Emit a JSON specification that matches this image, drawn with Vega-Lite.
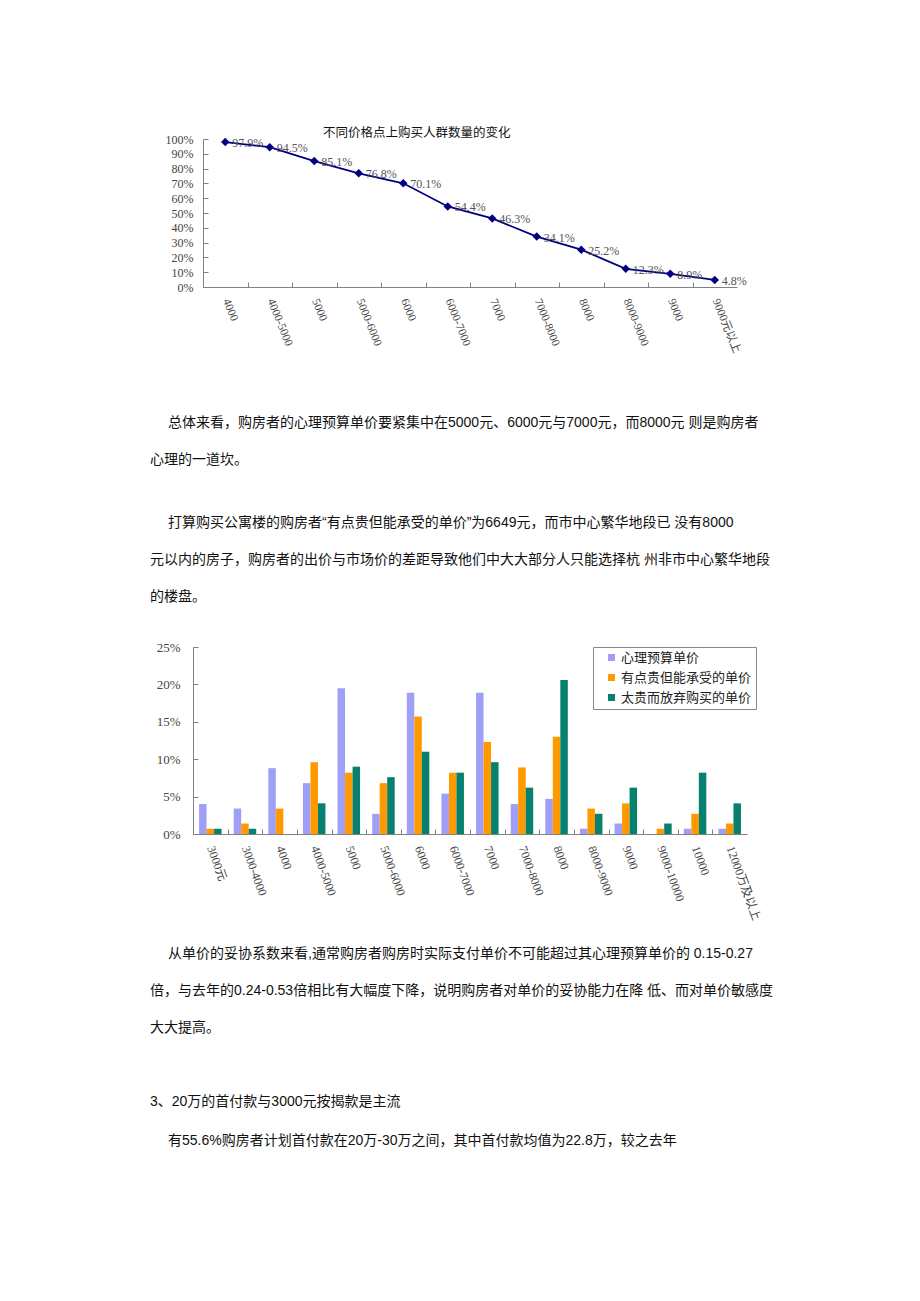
{
  "$schema": "https://vega.github.io/schema/vega-lite/v6.json",
  "background": "white",
  "padding": {"left": 150, "top": 126, "right": 0, "bottom": 0},
  "spacing": 0,
  "bounds": "flush",
  "resolve": {"scale": {"color": "independent"}, "legend": {"color": "independent"}},
  "config": {"view": {"stroke": null}, "font": "Liberation Serif"},
  "datasets": {
    "priceLine": [
      {"price": "4000", "share": 0.979},
      {"price": "4000-5000", "share": 0.945},
      {"price": "5000", "share": 0.851},
      {"price": "5000-6000", "share": 0.768},
      {"price": "6000", "share": 0.701},
      {"price": "6000-7000", "share": 0.544},
      {"price": "7000", "share": 0.463},
      {"price": "7000-8000", "share": 0.341},
      {"price": "8000", "share": 0.252},
      {"price": "8000-9000", "share": 0.123},
      {"price": "9000", "share": 0.089},
      {"price": "9000元以上", "share": 0.048}
    ],
    "bars": [
      {"price": "3000元", "series": "心理预算单价", "value": 0.040},
      {"price": "3000元", "series": "有点贵但能承受的单价", "value": 0.007},
      {"price": "3000元", "series": "太贵而放弃购买的单价", "value": 0.007},
      {"price": "3000-4000", "series": "心理预算单价", "value": 0.034},
      {"price": "3000-4000", "series": "有点贵但能承受的单价", "value": 0.014},
      {"price": "3000-4000", "series": "太贵而放弃购买的单价", "value": 0.007},
      {"price": "4000", "series": "心理预算单价", "value": 0.088},
      {"price": "4000", "series": "有点贵但能承受的单价", "value": 0.034},
      {"price": "4000", "series": "太贵而放弃购买的单价", "value": 0.0},
      {"price": "4000-5000", "series": "心理预算单价", "value": 0.068},
      {"price": "4000-5000", "series": "有点贵但能承受的单价", "value": 0.096},
      {"price": "4000-5000", "series": "太贵而放弃购买的单价", "value": 0.041},
      {"price": "5000", "series": "心理预算单价", "value": 0.195},
      {"price": "5000", "series": "有点贵但能承受的单价", "value": 0.082},
      {"price": "5000", "series": "太贵而放弃购买的单价", "value": 0.090},
      {"price": "5000-6000", "series": "心理预算单价", "value": 0.027},
      {"price": "5000-6000", "series": "有点贵但能承受的单价", "value": 0.068},
      {"price": "5000-6000", "series": "太贵而放弃购买的单价", "value": 0.076},
      {"price": "6000", "series": "心理预算单价", "value": 0.189},
      {"price": "6000", "series": "有点贵但能承受的单价", "value": 0.157},
      {"price": "6000", "series": "太贵而放弃购买的单价", "value": 0.110},
      {"price": "6000-7000", "series": "心理预算单价", "value": 0.054},
      {"price": "6000-7000", "series": "有点贵但能承受的单价", "value": 0.082},
      {"price": "6000-7000", "series": "太贵而放弃购买的单价", "value": 0.082},
      {"price": "7000", "series": "心理预算单价", "value": 0.189},
      {"price": "7000", "series": "有点贵但能承受的单价", "value": 0.123},
      {"price": "7000", "series": "太贵而放弃购买的单价", "value": 0.096},
      {"price": "7000-8000", "series": "心理预算单价", "value": 0.040},
      {"price": "7000-8000", "series": "有点贵但能承受的单价", "value": 0.089},
      {"price": "7000-8000", "series": "太贵而放弃购买的单价", "value": 0.062},
      {"price": "8000", "series": "心理预算单价", "value": 0.047},
      {"price": "8000", "series": "有点贵但能承受的单价", "value": 0.130},
      {"price": "8000", "series": "太贵而放弃购买的单价", "value": 0.206},
      {"price": "8000-9000", "series": "心理预算单价", "value": 0.007},
      {"price": "8000-9000", "series": "有点贵但能承受的单价", "value": 0.034},
      {"price": "8000-9000", "series": "太贵而放弃购买的单价", "value": 0.027},
      {"price": "9000", "series": "心理预算单价", "value": 0.014},
      {"price": "9000", "series": "有点贵但能承受的单价", "value": 0.041},
      {"price": "9000", "series": "太贵而放弃购买的单价", "value": 0.062},
      {"price": "9000-10000", "series": "心理预算单价", "value": 0.0},
      {"price": "9000-10000", "series": "有点贵但能承受的单价", "value": 0.007},
      {"price": "9000-10000", "series": "太贵而放弃购买的单价", "value": 0.014},
      {"price": "10000", "series": "心理预算单价", "value": 0.007},
      {"price": "10000", "series": "有点贵但能承受的单价", "value": 0.027},
      {"price": "10000", "series": "太贵而放弃购买的单价", "value": 0.082},
      {"price": "12000万及以上", "series": "心理预算单价", "value": 0.007},
      {"price": "12000万及以上", "series": "有点贵但能承受的单价", "value": 0.014},
      {"price": "12000万及以上", "series": "太贵而放弃购买的单价", "value": 0.041}
    ],
    "paragraphs": [
      {"block": "A", "line": 1, "indent": "yes", "text": "总体来看，购房者的心理预算单价要紧集中在5000元、6000元与7000元，而8000元 则是购房者"},
      {"block": "A", "line": 2, "indent": "no", "text": "心理的一道坎。"},
      {"block": "B", "line": 1, "indent": "yes", "text": "打算购买公寓楼的购房者“有点贵但能承受的单价”为6649元，而市中心繁华地段已 没有8000"},
      {"block": "B", "line": 2, "indent": "no", "text": "元以内的房子，购房者的出价与市场价的差距导致他们中大大部分人只能选择杭 州非市中心繁华地段"},
      {"block": "B", "line": 3, "indent": "no", "text": "的楼盘。"},
      {"block": "C", "line": 1, "indent": "yes", "text": "从单价的妥协系数来看,通常购房者购房时实际支付单价不可能超过其心理预算单价的 0.15-0.27"},
      {"block": "C", "line": 2, "indent": "no", "text": "倍，与去年的0.24-0.53倍相比有大幅度下降，说明购房者对单价的妥协能力在降 低、而对单价敏感度"},
      {"block": "C", "line": 3, "indent": "no", "text": "大大提高。"},
      {"block": "D", "line": 1, "indent": "no", "text": "3、20万的首付款与3000元按揭款是主流"},
      {"block": "D", "line": 2, "indent": "yes", "text": "有55.6%购房者计划首付款在20万-30万之间，其中首付款均值为22.8万，较之去年"}
    ]
  },
  "vconcat": [
    {
      "width": 544,
      "height": 148,
      "title": {"text": "不同价格点上购买人群数量的变化", "font": "Noto Sans CJK SC", "fontSize": 12.5, "fontWeight": "normal", "color": "#111", "anchor": "start", "frame": "group", "dx": 130, "offset": -6},
      "data": {"name": "priceLine"},
      "encoding": {
        "x": {
          "field": "price", "type": "nominal", "sort": null,
          "scale": {"type": "point", "range": [10, 544], "padding": 0.5},
          "axis": {"title": null, "labelAngle": 68, "labelAlign": "left", "labelBaseline": "middle", "labelFont": "Liberation Serif, Noto Sans CJK SC", "labelFontSize": 11.5, "labelColor": "#444", "tickSize": -5, "labelPadding": 17, "tickOffset": -22.25, "labelOffset": 22.25, "domainColor": "#808080", "tickColor": "#808080", "grid": false}
        },
        "y": {
          "field": "share", "type": "quantitative",
          "scale": {"domain": [0, 1]},
          "axis": {"title": null, "values": [0, 0.1, 0.2, 0.3, 0.4, 0.5, 0.6, 0.7, 0.8, 0.9, 1], "format": ".0%", "offset": -10, "grid": false, "tickSize": -5, "labelPadding": 15, "labelFont": "Liberation Serif", "labelFontSize": 12, "labelColor": "#444", "domainColor": "#808080", "tickColor": "#808080"}
        }
      },
      "layer": [
        {"mark": {"type": "line", "color": "#000080", "strokeWidth": 1.8}},
        {"mark": {"type": "point", "shape": "diamond", "filled": true, "color": "#000080", "size": 72, "opacity": 1}},
        {"mark": {"type": "text", "align": "left", "baseline": "middle", "dx": 7, "dy": 1, "font": "Liberation Serif", "fontSize": 12, "color": "#555"},
         "encoding": {"text": {"field": "share", "type": "quantitative", "format": ".1%"}}}
      ]
    },
    {
      "width": 554,
      "height": 239.6,
      "data": {"name": "paragraphs"},
      "transform": [{"filter": "datum.block === 'A'"}],
      "mark": {"type": "text", "align": "left", "baseline": "alphabetic", "font": "Liberation Sans, Noto Sans CJK SC", "fontSize": 14, "color": "#111"},
      "encoding": {
        "x": {"field": "indent", "type": "ordinal", "scale": {"type": "point", "domain": ["no", "yes"], "range": [-43, -25], "padding": 0}, "axis": null},
        "y": {"field": "line", "type": "ordinal", "scale": {"type": "point", "range": [139.6, 176.6], "padding": 0}, "axis": null},
        "text": {"field": "text", "type": "nominal"}
      }
    },
    {
      "width": 554,
      "height": 119.3,
      "data": {"name": "paragraphs"},
      "transform": [{"filter": "datum.block === 'B'"}],
      "mark": {"type": "text", "align": "left", "baseline": "alphabetic", "font": "Liberation Sans, Noto Sans CJK SC", "fontSize": 14, "color": "#111"},
      "encoding": {
        "x": {"field": "indent", "type": "ordinal", "scale": {"type": "point", "domain": ["no", "yes"], "range": [-43, -25], "padding": 0}, "axis": null},
        "y": {"field": "line", "type": "ordinal", "scale": {"type": "point", "range": [0, 74], "padding": 0}, "axis": null},
        "text": {"field": "text", "type": "nominal"}
      }
    },
    {
      "width": 554,
      "height": 187,
      "data": {"name": "bars"},
      "mark": {"type": "bar"},
      "encoding": {
        "x": {
          "field": "price", "type": "nominal", "sort": null,
          "scale": {"paddingInner": 0.35, "paddingOuter": 0.175},
          "axis": {"title": null, "labelAngle": 70, "labelAlign": "left", "labelBaseline": "middle", "labelFont": "Liberation Serif, Noto Sans CJK SC", "labelFontSize": 12, "labelColor": "#444", "tickSize": -5, "labelPadding": 17, "tickOffset": -17.3125, "labelOffset": 17.3125, "domainColor": "#808080", "tickColor": "#808080", "grid": false}
        },
        "xOffset": {"field": "series", "type": "nominal", "sort": ["心理预算单价", "有点贵但能承受的单价", "太贵而放弃购买的单价"], "scale": {"paddingInner": 0}},
        "y": {
          "field": "value", "type": "quantitative",
          "scale": {"domain": [0, 0.25]},
          "axis": {"title": null, "values": [0, 0.05, 0.1, 0.15, 0.2, 0.25], "format": ".0%", "grid": false, "tickSize": -5, "labelPadding": 18, "labelFont": "Liberation Serif", "labelFontSize": 13, "labelColor": "#444", "domainColor": "#808080", "tickColor": "#808080"}
        },
        "color": {
          "field": "series", "type": "nominal",
          "scale": {"domain": ["心理预算单价", "有点贵但能承受的单价", "太贵而放弃购买的单价"], "range": ["#9F9FF7", "#FF9900", "#08806F"]},
          "legend": {"title": null, "orient": "none", "legendX": 400, "legendY": 0, "direction": "vertical", "symbolType": "square", "symbolSize": 49, "symbolStrokeWidth": 0, "labelFont": "Noto Sans CJK SC", "labelFontSize": 13, "labelColor": "#222", "strokeColor": "#888", "fillColor": "white", "padding": 4, "rowPadding": 6, "symbolOffset": 8, "labelOffset": 3}
        }
      }
    },
    {
      "width": 554,
      "height": 271.7,
      "data": {"name": "paragraphs"},
      "transform": [{"filter": "datum.block === 'C'"}],
      "mark": {"type": "text", "align": "left", "baseline": "alphabetic", "font": "Liberation Sans, Noto Sans CJK SC", "fontSize": 14, "color": "#111"},
      "encoding": {
        "x": {"field": "indent", "type": "ordinal", "scale": {"type": "point", "domain": ["no", "yes"], "range": [-43, -25], "padding": 0}, "axis": null},
        "y": {"field": "line", "type": "ordinal", "scale": {"type": "point", "range": [123.7, 197.7], "padding": 0}, "axis": null},
        "text": {"field": "text", "type": "nominal"}
      }
    },
    {
      "width": 554,
      "height": 60,
      "data": {"name": "paragraphs"},
      "transform": [{"filter": "datum.block === 'D'"}],
      "mark": {"type": "text", "align": "left", "baseline": "alphabetic", "font": "Liberation Sans, Noto Sans CJK SC", "fontSize": 14, "color": "#111"},
      "encoding": {
        "x": {"field": "indent", "type": "ordinal", "scale": {"type": "point", "domain": ["no", "yes"], "range": [-43, -25], "padding": 0}, "axis": null},
        "y": {"field": "line", "type": "ordinal", "scale": {"type": "point", "range": [0, 39], "padding": 0}, "axis": null},
        "text": {"field": "text", "type": "nominal"}
      }
    }
  ]
}
